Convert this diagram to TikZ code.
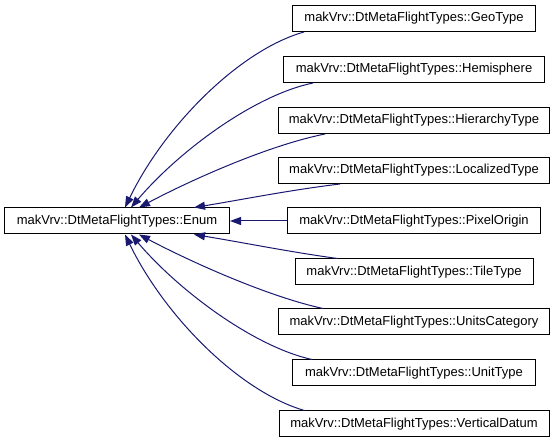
\documentclass[tikz,border=0pt]{standalone}
\usepackage{fontspec}
\setmainfont{Liberation Sans}
\usetikzlibrary{arrows.meta}
\definecolor{edgecol}{HTML}{191970}
\tikzset{
  cls/.style={draw=black, line width=1pt, fill=white, minimum height=26pt, inner sep=0pt,
    font=\fontsize{13}{15}\selectfont, anchor=center},
  inh/.style={draw=edgecol, line width=1pt, -{Triangle[length=11pt,width=8pt]}, color=edgecol}
}
\begin{document}
\begin{tikzpicture}[x=1pt,y=-1pt]
\useasboundingbox (0,0) rectangle (557,443);
\node[cls, minimum width=225pt] (enum) at (117,221) {makVrv::DtMetaFlightTypes::Enum};
\node[cls, minimum width=243pt] (geo) at (414,18.5) {makVrv::DtMetaFlightTypes::GeoType};
\node[cls, minimum width=261pt] (hemi) at (414,69.5) {makVrv::DtMetaFlightTypes::Hemisphere};
\node[cls, minimum width=271pt] (hier) at (414,120.5) {makVrv::DtMetaFlightTypes::HierarchyType};
\node[cls, minimum width=271pt] (loc) at (414,170.5) {makVrv::DtMetaFlightTypes::LocalizedType};
\node[cls, minimum width=253pt] (pix) at (414,221) {makVrv::DtMetaFlightTypes::PixelOrigin};
\node[cls, minimum width=238pt] (tile) at (414,272) {makVrv::DtMetaFlightTypes::TileType};
\node[cls, minimum width=271pt] (units) at (414,322) {makVrv::DtMetaFlightTypes::UnitsCategory};
\node[cls, minimum width=243pt] (unitt) at (414,373) {makVrv::DtMetaFlightTypes::UnitType};
\node[cls, minimum width=270pt] (vert) at (414,424) {makVrv::DtMetaFlightTypes::VerticalDatum};

\draw[inh] ([xshift=12pt]geo.south west) .. controls (240,50) and (165,125) .. ([xshift=121pt]enum.north west);
\draw[inh] ([xshift=30pt]hemi.south west) .. controls (255,95) and (180,150) .. ([xshift=127pt]enum.north west);
\draw[inh] ([xshift=47pt]hier.south west) .. controls (270,145) and (195,178) .. ([xshift=135pt]enum.north west);
\draw[inh] ([xshift=62pt]loc.south west) .. controls (290,190) and (240,200) .. ([xshift=190pt]enum.north west);
\draw[inh] (pix.west) -- (enum.east);
\draw[inh] ([xshift=43pt]tile.north west) .. controls (290,252) and (240,242) .. ([xshift=190pt]enum.south west);
\draw[inh] ([xshift=45pt]units.north west) .. controls (270,297) and (195,264) .. ([xshift=135pt]enum.south west);
\draw[inh] ([xshift=20pt]unitt.north west) .. controls (255,347) and (180,292) .. ([xshift=127pt]enum.south west);
\draw[inh] ([xshift=26pt]vert.north west) .. controls (240,392) and (165,317) .. ([xshift=121pt]enum.south west);
\end{tikzpicture}
\end{document}
